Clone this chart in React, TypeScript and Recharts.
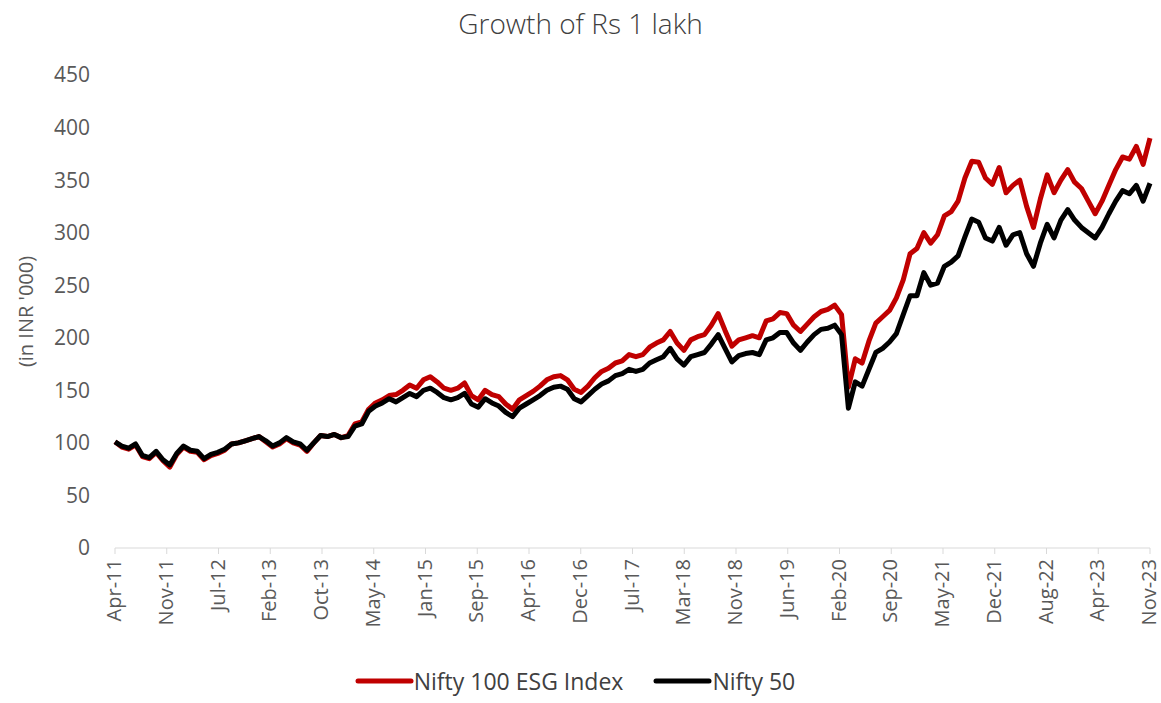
import { Legend, Line, LineChart, XAxis, YAxis } from "recharts";

// month-end levels, Apr-11 .. Nov-23 (Rs 1 lakh = 100)
const esgIndex = [
  101, 96, 94, 98, 87, 85, 91, 83, 77, 89, 96, 92, 91, 84, 88, 90, 93, 99, 100,
  102, 104, 106, 101, 96, 99, 104, 100, 98, 92, 100, 107, 106, 108, 105, 107,
  118, 120, 132, 138, 141, 145, 146, 150, 155, 152, 160, 163, 158, 152, 150,
  152, 157, 145, 141, 150, 146, 144, 137, 132, 141, 145, 149, 154, 160, 163,
  164, 160, 151, 148, 154, 162, 168, 171, 176, 178, 184, 182, 184, 191, 195,
  198, 206, 195, 188, 198, 201, 203, 212, 223, 207, 192, 198, 200, 202, 200,
  216, 218, 224, 223, 212, 206, 213, 220, 225, 227, 231, 222, 153, 180, 176,
  197, 214, 220, 226, 238, 255, 280, 285, 300, 290, 298, 316, 320, 330, 352,
  368, 367, 352, 346, 362, 338, 345, 350, 325, 305, 332, 355, 338, 350, 360,
  348, 342, 330, 318, 330, 345, 360, 372, 370, 382, 365, 390,
];

const nifty50 = [
  101, 97, 95, 99, 88, 86, 92, 84, 79, 90, 97, 93, 92, 85, 89, 91, 94, 99, 100,
  102, 104, 106, 102, 97, 100, 105, 101, 99, 93, 100, 107, 106, 108, 105, 106,
  116, 118, 130, 135, 138, 142, 139, 143, 147, 144, 150, 152, 148, 143, 141,
  143, 147, 137, 134, 142, 138, 135, 129, 125, 133, 137, 141, 145, 150, 153,
  154, 151, 142, 139, 145, 151, 156, 159, 164, 166, 170, 168, 170, 176, 179,
  182, 190, 180, 174, 182, 184, 186, 194, 203, 190, 177, 183, 185, 186, 184,
  198, 200, 205, 205, 195, 188, 196, 203, 208, 209, 212, 203, 133, 158, 154,
  170, 186, 190, 196, 204, 222, 240, 240, 262, 250, 252, 268, 272, 278, 296,
  313, 310, 295, 292, 305, 288, 298, 300, 280, 268, 290, 308, 295, 312, 322,
  312, 305, 300, 295, 305, 318, 330, 340, 337, 345, 330, 347,
];

const tickLabels = [
  "Apr-11", "Nov-11", "Jul-12", "Feb-13", "Oct-13", "May-14", "Jan-15",
  "Sep-15", "Apr-16", "Dec-16", "Jul-17", "Mar-18", "Nov-18", "Jun-19",
  "Feb-20", "Sep-20", "May-21", "Dec-21", "Aug-22", "Apr-23", "Nov-23",
];

const yTicks = [0, 50, 100, 150, 200, 250, 300, 350, 400, 450];

const last = nifty50.length - 1;
const tickPos = tickLabels.map((_, i) => (i * last) / (tickLabels.length - 1));

const data = nifty50.map((v, i) => ({ idx: i, esg: esgIndex[i], nifty: v }));

const FONT = "'Open Sans', 'DejaVu Sans', sans-serif";

const XTick = (props: any) => {
  const { x, y, index } = props;
  return (
    <g transform={`translate(${x},${y})`}>
      <text
        transform="rotate(-90)"
        x={-3}
        dy="0.3em"
        textAnchor="end"
        fill="#595959"
        fontSize={20}
        fontFamily={FONT}
      >
        {tickLabels[index]}
      </text>
    </g>
  );
};

const legendItems = [
  { name: "Nifty 100 ESG Index", color: "#C00000" },
  { name: "Nifty 50", color: "#000000" },
];

const LegendBox = () => (
  <div
    style={{
      display: "flex",
      justifyContent: "center",
      alignItems: "center",
      gap: 30,
      height: 30,
      lineHeight: "30px",
      fontFamily: FONT,
      fontSize: 23,
      color: "#404040",
    }}
  >
    {legendItems.map((it) => (
      <div key={it.name} style={{ display: "flex", alignItems: "center" }}>
        <svg width={59} height={10}>
          <line
            x1={3}
            y1={5}
            x2={56}
            y2={5}
            stroke={it.color}
            strokeWidth={5}
            strokeLinecap="round"
          />
        </svg>
        <span>{it.name}</span>
      </div>
    ))}
  </div>
);

export default function App() {
  return (
    <div
      style={{
        position: "absolute",
        left: 0,
        top: 0,
        width: 1161,
        height: 703,
        overflow: "hidden",
        background: "#fff",
      }}
    >
      <div
        style={{
          position: "absolute",
          top: 4,
          left: 0,
          width: 1161,
          textAlign: "center",
          fontFamily: FONT,
          fontWeight: 300,
          fontSize: 28,
          color: "#404040",
        }}
      >
        Growth of Rs 1 lakh
      </div>
      <LineChart
        width={1161}
        height={703}
        data={data}
        margin={{ top: 75, right: 11, left: 0, bottom: 7 }}
      >
        <XAxis
          dataKey="idx"
          type="number"
          domain={[0, last]}
          ticks={tickPos}
          interval={0}
          height={118}
          stroke="#D9D9D9"
          tickSize={6}
          tick={<XTick />}
        />
        <YAxis
          domain={[0, 450]}
          ticks={yTicks}
          width={115}
          axisLine={false}
          tickLine={false}
          tickSize={0}
          tickMargin={25}
          tick={{ fill: "#595959", fontSize: 21, fontFamily: FONT }}
          label={{
            value: "(in INR '000)",
            angle: -90,
            position: "insideLeft",
            offset: 26,
            style: { textAnchor: "middle", fill: "#595959", fontSize: 20, fontFamily: FONT },
          }}
        />
        <Line
          type="linear"
          dataKey="esg"
          stroke="#C00000"
          strokeWidth={5}
          dot={false}
          strokeLinejoin="round"
          isAnimationActive={false}
        />
        <Line
          type="linear"
          dataKey="nifty"
          stroke="#000000"
          strokeWidth={5}
          dot={false}
          strokeLinejoin="round"
          isAnimationActive={false}
        />
        <Legend verticalAlign="bottom" height={30} content={<LegendBox />} />
      </LineChart>
    </div>
  );
}
